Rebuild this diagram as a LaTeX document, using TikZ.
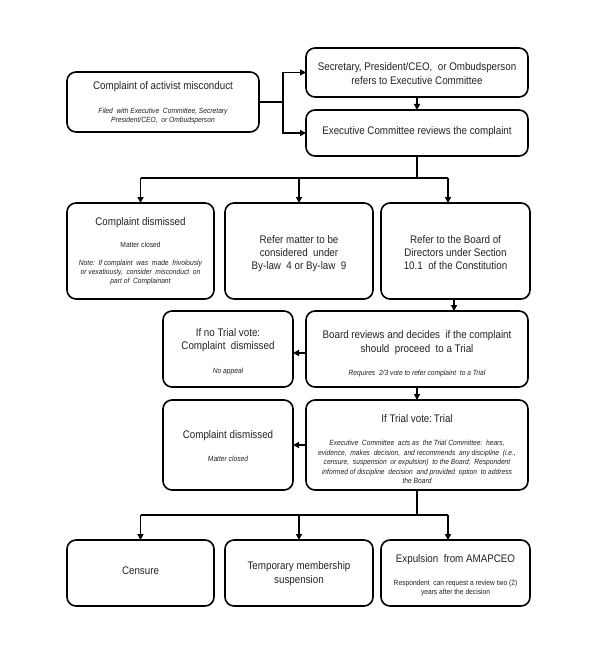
\documentclass[tikz,border=0pt]{standalone}
\usepackage{fontspec}
\setmainfont{Liberation Sans}[FakeStretch=0.89]
\usetikzlibrary{arrows.meta,fit}
\definecolor{txt}{HTML}{222222}
\begin{document}
\begin{tikzpicture}[x=1pt,y=-1pt,
  box/.style={draw=black, line width=1.6pt, rounded corners=9pt, inner sep=0pt, outer sep=0pt},
  con/.style={draw=black, line width=1.5pt},
  arr/.style={con, -{Triangle[length=6pt,width=6pt]}},
  mt/.style={font=\fontsize{11}{13}\selectfont, text=txt, anchor=base, yshift=-3.9pt, inner sep=0pt},
  st/.style={font=\fontsize{7.5}{9}\selectfont, text=txt, anchor=base, yshift=-2.7pt, inner sep=0pt},
  it/.style={st, font=\fontsize{7.5}{9}\selectfont\itshape}]
\fill[white] (0,0) rectangle (600,663);
\useasboundingbox (0,0) rectangle (600,663);

% boxes
\node[box, fit={(67,72) (259,132)}] (b1) {};
\node[box, fit={(306,48) (528,97)}] (b2) {};
\node[box, fit={(306,110) (528,156)}] (b3) {};
\node[box, fit={(67,203) (214,299)}] (b4) {};
\node[box, fit={(225,203) (373,299)}] (b5) {};
\node[box, fit={(381,203) (530,299)}] (b6) {};
\node[box, fit={(306,311) (528,387)}] (b7) {};
\node[box, fit={(163,311) (293,387)}] (b8) {};
\node[box, fit={(306,400) (528,490)}] (b9) {};
\node[box, fit={(163,400) (293,490)}] (b10) {};
\node[box, fit={(67,540) (214,606)}] (b11) {};
\node[box, fit={(225,540) (373,606)}] (b12) {};
\node[box, fit={(381,540) (530,606)}] (b13) {};

% texts
\node[mt] (t1a) at (163,86) {Complaint of activist misconduct};
\node[it] (t1b) at (163,111) {Filed\ \ with Executive\ \ Committee, Secretary};
\node[it] (t1c) at (163,120) {President/CEO,\ \ or Ombudsperson};

\node[mt] (t2a) at (417,67) {Secretary, President/CEO,\ \ or Ombudsperson};
\node[mt] (t2b) at (417,81) {refers to Executive Committee};

\node[mt] (t3a) at (417,131) {Executive Committee reviews the complaint};

\node[mt] (t4a) at (140.5,222) {Complaint dismissed};
\node[st] (t4b) at (140.5,245) {Matter closed};
\node[it] (t4c) at (140.5,263) {Note:\ \ If complaint\ \ was\ \ made\ \ frivolously};
\node[it] (t4d) at (140.5,272) {or vexatiously,\ \ consider\ \ misconduct\ \ on};
\node[it] (t4e) at (140.5,281) {part of\ \ Complainant};

\node[mt] (t5a) at (299,240) {Refer matter to be};
\node[mt] (t5b) at (299,253) {considered\ \ under};
\node[mt] (t5c) at (299,266) {By-law\ \ 4 or By-law\ \ 9};

\node[mt] (t6a) at (455.5,240) {Refer to the Board of};
\node[mt] (t6b) at (455.5,253) {Directors under Section};
\node[mt] (t6c) at (455.5,266) {10.1\ \ of the Constitution};

\node[mt] (t7a) at (417,335) {Board reviews and decides\ \ if the complaint};
\node[mt] (t7b) at (417,349) {should\ \ proceed\ \ to a Trial};
\node[it] (t7c) at (417,373) {Requires\ \ 2/3 vote to refer complaint\ \ to a Trial};

\node[mt] (t8a) at (228,333) {If no Trial vote:};
\node[mt] (t8b) at (228,346) {Complaint\ \ dismissed};
\node[it] (t8c) at (228,371) {No appeal};

\node[mt] (t9a) at (417,419) {If Trial vote:\,Trial};
\node[it] (t9b) at (417,443) {Executive\ \ Committee\ \ acts as\ \ the Trial Committee:\ \ hears,};
\node[it] (t9c) at (417,452.5) {evidence,\ \ makes\ \ decision,\ \ and recommends\ \ any discipline\ \ (i.e.,};
\node[it] (t9d) at (417,462) {censure,\ \ suspension\ \ or expulsion)\ \ to the Board;\ \ Respondent};
\node[it] (t9e) at (417,471.5) {informed of discipline\ \ decision\ \ and provided\ \ option\ \ to address};
\node[it] (t9f) at (417,481) {the Board};

\node[mt] (t10a) at (228,435) {Complaint dismissed};
\node[it] (t10b) at (228,459) {Matter closed};

\node[mt] (t11a) at (140.5,571) {Censure};

\node[mt] (t12a) at (299,566) {Temporary membership};
\node[mt] (t12b) at (299,580) {suspension};

\node[mt] (t13a) at (455.5,559) {Expulsion\ \ from AMAPCEO};
\node[st] (t13b) at (455.5,583) {Respondent\ \ can request\ a review\ two (2)};
\node[st] (t13c) at (455.5,592) {years after\ the decision};

% connectors
\coordinate (j1) at (283,102);
\draw[con] (b1.east) -- (j1);
\draw[arr] (j1) |- (b2.west);
\draw[arr] (j1) |- (b3.west);
\draw[arr] (b2.south) -- (b3.north);

\coordinate (h1) at (417,178);
\coordinate (h1L) at (140.5,178);
\coordinate (h1R) at (448,178);
\draw[con] (b3.south) -- (h1);
\draw[con] (h1L) -- (h1R);
\draw[arr] (h1L) -- (b4.north);
\draw[arr] (b5.north |- h1) -- (b5.north);
\draw[arr] (h1R) -- (h1R |- b6.north);

\draw[arr] ([xshift=-1.5pt]b6.south) -- ([xshift=-1.5pt]b6.south |- b7.north);
\draw[arr] ([yshift=-4pt]b7.west) -- ([yshift=-4pt]b7.west -| b8.east);
\draw[arr] (b7.south) -- (b9.north);
\draw[arr] (b9.west) -- (b9.west -| b10.east);

\coordinate (h2) at (417,515);
\coordinate (h2L) at (140.5,515);
\coordinate (h2R) at (448,515);
\draw[con] (b9.south) -- (h2);
\draw[con] (h2L) -- (h2R);
\draw[arr] (h2L) -- (b11.north);
\draw[arr] (b12.north |- h2) -- (b12.north);
\draw[arr] (h2R) -- (h2R |- b13.north);
\end{tikzpicture}
\end{document}
